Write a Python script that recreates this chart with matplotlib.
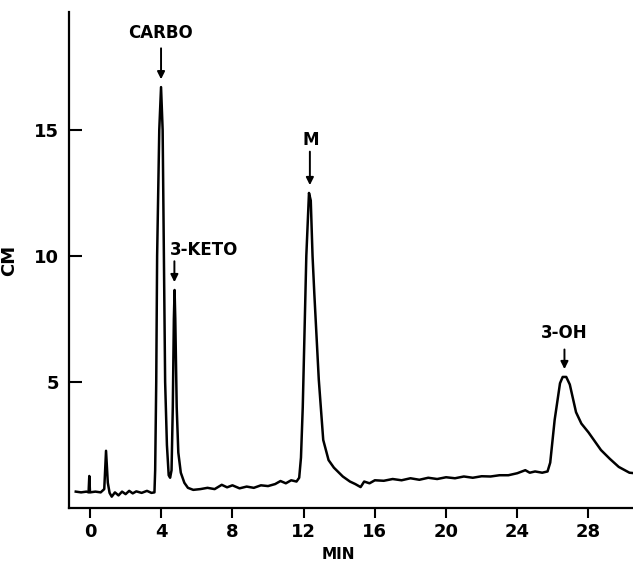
import matplotlib.pyplot as plt

# retention time (min) and recorder deflection (cm)
time_min = [-0.8, -0.5, -0.2, -0.08, -0.04, 0.0, 0.3, 0.6, 0.8, 0.9, 1.0, 1.1, 1.22,
            1.4, 1.6, 1.8, 2.0, 2.2, 2.4, 2.6, 2.9, 3.2, 3.45, 3.62,
            3.66, 3.72, 3.77, 3.89, 3.99, 4.08, 4.15, 4.22, 4.32, 4.42, 4.5,
            4.58, 4.65, 4.71, 4.75, 4.79, 4.87, 4.96, 5.1, 5.3, 5.5,
            5.8, 6.2, 6.6, 7.0, 7.4, 7.7, 8.0, 8.4, 8.8, 9.2, 9.6, 10.0, 10.4,
            10.7, 11.0, 11.3, 11.6, 11.75, 11.85, 11.95, 12.05, 12.15, 12.3,
            12.4, 12.5, 12.6, 12.85, 13.1, 13.4, 13.7, 14.2, 14.6, 14.9, 15.2,
            15.4, 15.7, 16.0, 16.5, 17.0, 17.5, 18.0, 18.5, 19.0, 19.5, 20.0,
            20.5, 21.0, 21.5, 22.0, 22.5, 23.0, 23.5, 24.0, 24.45, 24.7, 25.0,
            25.4, 25.7, 25.85, 26.1, 26.4, 26.55, 26.75, 26.95, 27.3, 27.6,
            28.0, 28.7, 29.2, 29.7, 30.3, 30.6]
signal_cm = [0.65, 0.62, 0.65, 0.62, 1.27, 0.62, 0.65, 0.62, 0.75, 2.27, 1.0, 0.6, 0.45,
             0.62, 0.5, 0.65, 0.55, 0.68, 0.58, 0.66, 0.6, 0.68, 0.6, 0.62,
             1.5, 5.0, 10.0, 15.0, 16.7, 15.0, 10.0, 5.0, 2.5, 1.3, 1.2,
             1.5, 4.0, 7.5, 8.65, 7.5, 4.0, 2.2, 1.4, 1.0, 0.8,
             0.72, 0.75, 0.8, 0.75, 0.92, 0.82, 0.9, 0.78, 0.85, 0.8, 0.9, 0.87, 0.95,
             1.07, 0.98, 1.1, 1.05, 1.2, 2.0, 4.0, 7.0, 10.0, 12.5,
             12.2, 10.0, 8.5, 5.1, 2.7, 1.9, 1.6, 1.25, 1.05, 0.95, 0.83,
             1.05, 0.98, 1.1, 1.08, 1.15, 1.1, 1.18, 1.12, 1.2, 1.15, 1.22,
             1.18, 1.25, 1.2, 1.26, 1.25, 1.3, 1.3, 1.38, 1.5, 1.4, 1.45,
             1.4, 1.45, 1.8, 3.5, 4.95, 5.2, 5.2, 4.9, 3.8, 3.35,
             3.0, 2.3, 1.95, 1.63, 1.4, 1.38]

peak_names = ['CARBO', '3-KETO', 'M', '3-OH']
peak_times = [3.99, 4.74, 12.35, 26.65]
peak_heights = [16.7, 8.65, 12.5, 5.2]

x_ticks = [0, 4, 8, 12, 16, 20, 24, 28]
y_ticks = [5, 10, 15]

plt.rcParams['font.family'] = 'DejaVu Sans'
plt.rcParams['font.weight'] = 'bold'

fig = plt.figure(figsize=(6.33, 5.67), dpi=100)
ax = fig.add_axes([69 / 633, 1 - 508 / 567, 1 - 69 / 633, (508 - 12) / 567])

ax.plot(time_min, signal_cm, color='black', lw=1.8, solid_joinstyle='round')

ax.set_xlim(-1.18, 30.5)
ax.set_ylim(0, 19.68)
ax.set_xticks(x_ticks)
ax.set_yticks(y_ticks)
ax.tick_params(axis='x', direction='out', length=7, width=1.5, pad=4, labelsize=13)
ax.tick_params(axis='y', direction='in', length=9, width=1.5, pad=7, labelsize=13)

for s in ['top', 'right']:
    ax.spines[s].set_visible(False)
for s in ['left', 'bottom']:
    ax.spines[s].set_linewidth(1.6)

ax.set_xlabel('MIN', fontsize=11, fontweight='bold')
ax.xaxis.set_label_coords(0.477, -0.078)
ax.set_ylabel('CM', fontsize=13, fontweight='bold')
ax.yaxis.set_label_coords(-0.09, 0.5)

# peak labels with arrows
label_pos = [(3.94, 18.85, 'center'), (4.5, 10.25, 'left'), (12.4, 14.6, 'center'), (26.65, 6.95, 'center')]
arrow_gap = [1.45, 1.05, 1.55, 1.0]
for name, t, h, (lx, ly, ha), gap in zip(peak_names, peak_times, peak_heights, label_pos, arrow_gap):
    ax.text(lx, ly, name, ha=ha, va='center', fontsize=12, fontweight='bold')
    ax.annotate('', xy=(t, h + 0.2), xytext=(t, h + 0.2 + gap),
                arrowprops=dict(arrowstyle='-|>', color='black', lw=1.4, mutation_scale=11))

fig.savefig('out.png', dpi=100)
